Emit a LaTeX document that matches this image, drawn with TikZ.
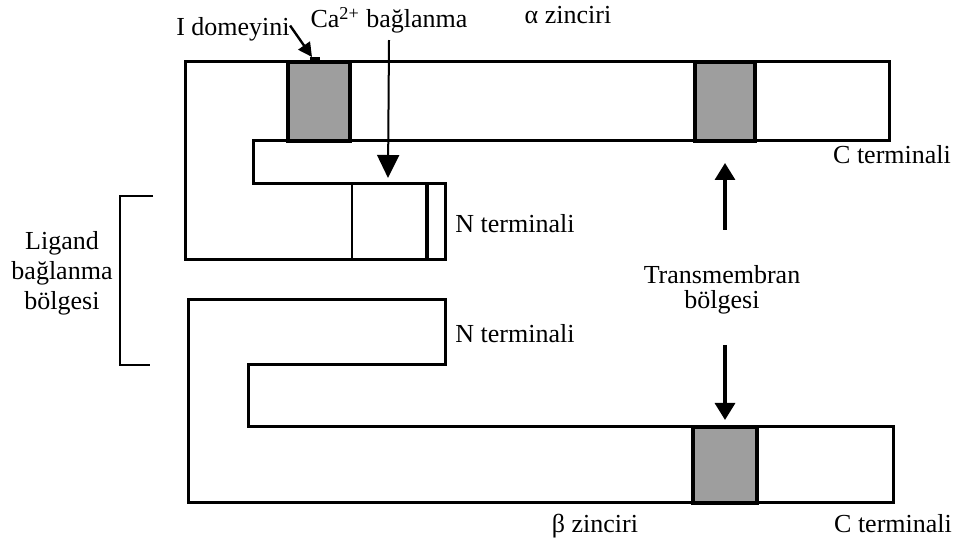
\documentclass[tikz,border=0pt]{standalone}
\usepackage{fontspec}
\setmainfont{Liberation Serif}
\usetikzlibrary{arrows.meta}

\tikzset{
  chainline/.style = {draw=black, line width=1.5pt, line join=miter},
  tmseg/.style = {draw=black, line width=2.4pt, fill=black!38},
  lbl/.style = {font=\fontsize{13}{15}\selectfont, inner sep=0pt, anchor=base},
  pointer/.style = {line width=1.6pt, -{Triangle[length=8.5pt, width=10pt]}}
}

\begin{document}
\begin{tikzpicture}[x=0.5pt, y=-0.5pt]
    \useasboundingbox (0,0) rectangle (958,544);

    % alpha chain
    \draw[chainline] (889,62) -- (185,62) -- (185,260) -- (445,260) -- (445,184)
      -- (253,184) -- (253,141) -- (889,141) -- cycle;
    \draw[tmseg] (288,62) rectangle (350,141);
    \draw[tmseg] (695,62) rectangle (755,141);
    \draw[line width=1pt] (352,184) -- (352,260);
    \draw[line width=2.4pt] (427,184) -- (427,260);
    \fill (310,57) rectangle (320,62);

    % beta chain
    \draw[chainline] (188,300) -- (445,300) -- (445,365) -- (248,365) -- (248,427)
      -- (893,427) -- (893,503) -- (188,503) -- cycle;
    \draw[tmseg] (693,427) rectangle (757,503);

    % ligand binding bracket
    \draw[line width=0.8pt] (153,196) -- (120,196) -- (120,365) -- (150,365);

    % labels
    \node[lbl] (idom)  at (233,36)  {I domeyini};
    \node[lbl] (ca)    at (389,28)  {Ca\textsuperscript{2+} bağlanma};
    \node[lbl] (alpha) at (568,24)  {α zinciri};
    \node[lbl] (cta)   at (892,164) {C terminali};
    \node[lbl] (nta)   at (515,233) {N terminali};
    \node[lbl] (ntb)   at (515,343) {N terminali};
    \node[lbl] (beta)  at (595,532) {β zinciri};
    \node[lbl] (ctb)   at (893,533) {C terminali};
    \node[lbl, anchor=center, align=center, font=\fontsize{13}{15}\selectfont]
      (ligand) at (62,273) {Ligand\\bağlanma\\bölgesi};
    \node[lbl, anchor=center, align=center, font=\fontsize{13}{12.5}\selectfont]
      (tm) at (722,290) {Transmembran\\bölgesi};

    % arrows
    \coordinate (idomtip) at (312,57);
    \coordinate (catip)   at (388,178);
    \coordinate (tmup0)   at (725,230);
    \coordinate (tmup1)   at (725,163);
    \coordinate (tmdn0)   at (725,345);
    \coordinate (tmdn1)   at (725,420);

    \draw[line width=1.2pt, -{Triangle[length=7pt, width=7pt]}] (idom.north east) ++(0,8) -- (idomtip);
    \draw[line width=1pt, -{Triangle[length=11.5pt, width=11pt]}] (ca.south) ++(0,6) -- (catip);
    \draw[pointer] (tmup0) -- (tmup1);
    \draw[pointer] (tmdn0) -- (tmdn1);

  \end{tikzpicture}
\end{document}
